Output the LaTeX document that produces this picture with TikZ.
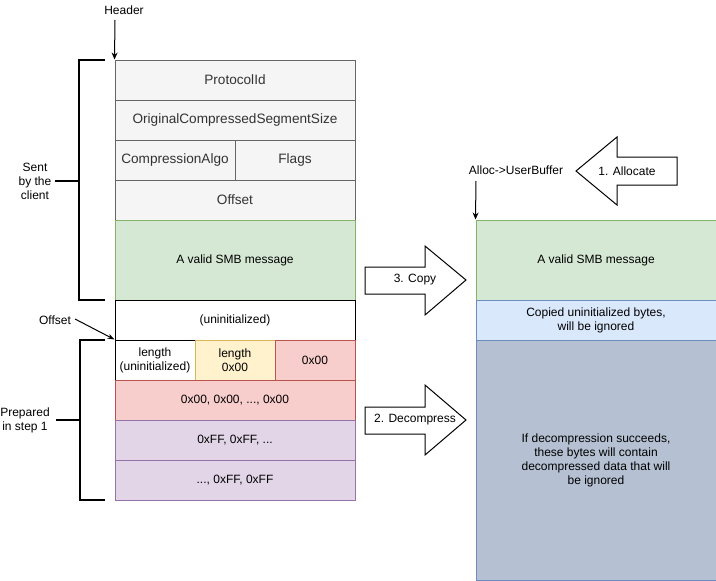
\documentclass[tikz,border=0pt]{standalone}
\usepackage{fontspec}
\setmainfont{Liberation Sans}
\usetikzlibrary{arrows.meta}
\definecolor{grayF}{HTML}{F5F5F5}
\definecolor{grayD}{HTML}{666666}
\definecolor{grayT}{HTML}{333333}
\definecolor{greenF}{HTML}{D5E8D4}
\definecolor{greenD}{HTML}{82B366}
\definecolor{yelF}{HTML}{FFF2CC}
\definecolor{yelD}{HTML}{D6B656}
\definecolor{redF}{HTML}{F8CECC}
\definecolor{redD}{HTML}{B85450}
\definecolor{purF}{HTML}{E1D5E7}
\definecolor{purD}{HTML}{9673A6}
\definecolor{bluF}{HTML}{DAE8FC}
\definecolor{bluD}{HTML}{6C8EBF}
\definecolor{slaF}{HTML}{B5C1D2}
\begin{document}
\begin{tikzpicture}[x=1pt,y=-1pt,
  cell/.style={draw, line width=1pt, rectangle, inner sep=0pt, minimum height=40pt,
    minimum width=240pt, align=center, font=\fontsize{12}{14}\selectfont, text=black},
  graycell/.style={cell, fill=grayF, draw=grayD, text=grayT, font=\fontsize{13.6}{16}\selectfont},
  greencell/.style={cell, fill=greenF, draw=greenD},
  whitecell/.style={cell, fill=white, draw=black},
  yelcell/.style={cell, fill=yelF, draw=yelD},
  redcell/.style={cell, fill=redF, draw=redD},
  purcell/.style={cell, fill=purF, draw=purD},
  blucell/.style={cell, fill=bluF, draw=bluD},
  slacell/.style={cell, fill=slaF, draw=bluD},
  lbl/.style={inner sep=1pt, align=center, font=\fontsize{12}{14}\selectfont},
  arr/.style={line width=1pt, -{Stealth[length=7pt,width=6pt]}},
  bracket/.style={line width=2pt},
  blockarrow/.style={draw=black, fill=white, line width=1pt, line join=miter}
]
\useasboundingbox (0,0) rectangle (716,581);

% left column
\node[graycell] (prot) at (235,80) {ProtocolId};
\node[graycell] (ocss) at (235,120) {OriginalCompressedSegmentSize};
\node[graycell, minimum width=120pt] (calgo) at (175,160) {CompressionAlgo};
\node[graycell, minimum width=120pt] (flags) at (295,160) {Flags};
\node[graycell] (offs) at (235,200) {Offset};
\node[greencell, minimum height=80pt] (smbL) at (235,260) {A valid SMB message};
\node[whitecell] (uninit) at (235,320) {(uninitialized)};
\node[whitecell, minimum width=80pt] (len1) at (155,360) {length\\(uninitialized)};
\node[yelcell, minimum width=80pt] (len2) at (235,360) {length\\0x00};
\node[redcell, minimum width=80pt] (z1) at (315,360) {0x00};
\node[redcell] (z2) at (235,400) {0x00, 0x00, ..., 0x00};
\node[purcell] (ff1) at (235,440) {0xFF, 0xFF, ...};
\node[purcell] (ff2) at (235,480) {..., 0xFF, 0xFF};

% right column
\node[greencell, minimum height=80pt] (smbR) at (596,260) {A valid SMB message};
\node[blucell] (copied) at (596,320) {Copied uninitialized bytes,\\will be ignored};
\node[slacell, minimum height=240pt] (decomp) at (596,460) {If decompression succeeds,\\these bytes will contain\\decompressed data that will\\be ignored};

% labels and pointers
\node[lbl] (hdr) at (124,10) {Header};
\coordinate (hdrfrom) at (115,20);
\draw[arr] (hdrfrom) -- (prot.north west);

\node[lbl] (alloclbl) at (516,170) {Alloc->UserBuffer};
\coordinate (allocfrom) at (476,181);
\draw[arr] (allocfrom) -- (smbR.north west);

\node[lbl] (offlbl) at (55,320) {Offset};
\coordinate (offfrom) at (75,319);
\draw[line width=1pt, -{Stealth[length=7pt,width=5pt]}] (offfrom) -- (len1.north west);

% brackets
\draw[bracket] (105,60) -- (79,60) -- (79,300) -- (105,300);
\draw[bracket] (79,181) -- (55,181);
\node[lbl] (sent) at (35,181) {Sent\\by the\\client};
\draw[bracket] (105,340) -- (80,340) -- (80,500) -- (105,500);
\draw[bracket] (80,420) -- (56,420);
\node[lbl] (prep) at (25,420) {Prepared\\in step 1};

% block arrows
\draw[blockarrow] (677,157) -- (617,157) -- (617,137) -- (576,171) -- (617,205) -- (617,185) -- (677,185) -- cycle;
\node[lbl] (allocate) at (627,171) {1. Allocate};
\draw[blockarrow] (365,267) -- (425,267) -- (425,246) -- (466,280) -- (425,315) -- (425,294) -- (365,294) -- cycle;
\node[lbl] (copy) at (415,280) {3. Copy};
\draw[blockarrow] (365,407) -- (425,407) -- (425,385) -- (466,420) -- (425,455) -- (425,434) -- (365,434) -- cycle;
\node[lbl] (decompress) at (415,420) {2. Decompress};
\end{tikzpicture}
\end{document}
